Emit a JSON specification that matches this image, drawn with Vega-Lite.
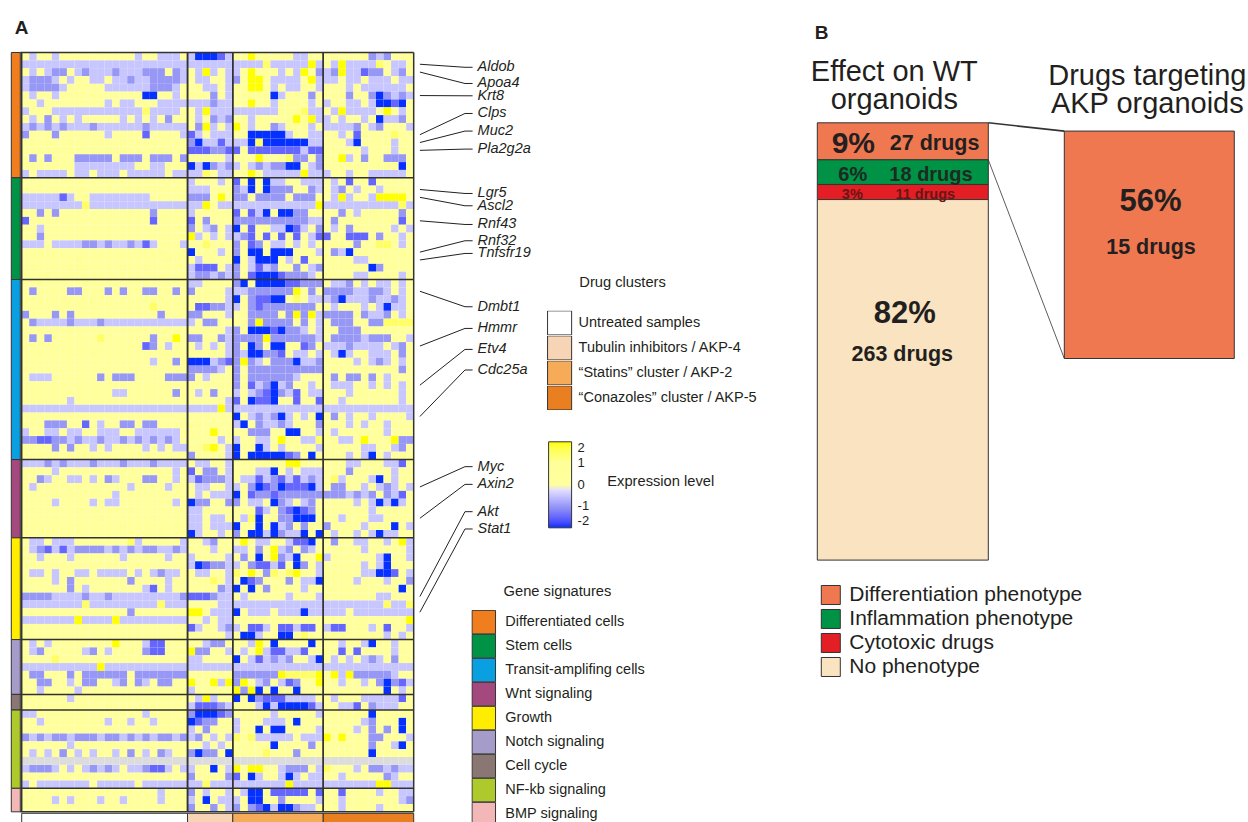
{
"$schema": "https://vega.github.io/schema/vega-lite/v6.json",
"padding": {"left": 10.3, "top": 18.5, "right": 0, "bottom": 0},
"background": "white",
"config": {"font": "Liberation Sans", "view": {"stroke": null}, "legend": {"labelFont": "Liberation Sans", "titleFont": "Liberation Sans", "labelColor": "#231f20", "titleColor": "#231f20", "titleFontWeight": "normal", "padding": 0, "labelLimit": 400}},
"datasets": {
"heat": [
{"r":1,"v":[0,-1,0,1,-1,1,1,1,1,0,1,1,1,1,0,-1,1,2,-1,-1,-1,1,-1,-4,-4,-4,-3,-1,1,2,4,2,2,1,2,2,-1,-1,1,0,1,2,1,1,1,2,-2,-1,-2,1,1,2]},
{"r":2,"v":[-1,-1,-1,-1,-1,-1,-1,-1,-1,-1,-1,-1,-1,-1,-1,-1,-1,-1,-1,-1,-1,-1,-1,-1,-1,-1,-1,-1,-1,-1,-1,-1,3,-1,-1,-1,-1,-1,4,-1,1,-1,4,-1,-1,-1,-1,3,1,-1,-1,2]},
{"r":3,"v":[1,-1,1,-1,-2,-2,1,-1,-2,-1,-1,-1,-2,-1,-1,-1,-2,-2,-2,1,-2,-1,1,-1,4,-1,1,-1,-1,1,4,1,1,2,-1,1,-1,4,1,-2,-1,-2,4,-1,-1,-3,-2,-2,1,-1,-2,1]},
{"r":4,"v":[-1,-2,-2,-2,-1,1,-1,1,0,-1,-1,1,-1,-1,-2,-1,-1,-2,-2,-2,-2,-1,1,-1,-1,1,1,-1,-2,1,4,4,1,-1,-1,-1,-1,1,4,-1,-1,-1,1,-1,-1,2,-1,-1,-1,1,-1,-1]},
{"r":5,"v":[-1,-2,-2,-2,-2,-1,1,1,1,1,1,-1,-1,-1,-1,-1,-1,-2,-2,-2,-1,1,1,1,-1,-1,1,-1,2,1,4,4,1,-1,1,-1,-1,2,1,-1,1,1,1,-1,1,-1,-1,-1,-1,-1,-1,1]},
{"r":6,"v":[1,-1,1,0,-1,1,1,1,0,1,0,1,1,0,1,1,-4,-4,1,1,-1,1,1,1,1,-2,1,-1,2,1,2,1,2,-4,-1,1,2,1,-2,1,1,1,1,-2,1,1,-2,-4,-2,-1,-2,-1]},
{"r":7,"v":[0,1,-1,1,1,1,1,1,0,1,0,-1,0,-1,-1,0,1,1,-1,-1,-1,-1,-1,-1,-1,-2,-1,-1,1,0,4,1,1,-1,2,2,2,1,-1,1,-1,1,1,-1,-1,1,-1,-4,-4,-3,-4,1]},
{"r":8,"v":[-1,2,2,2,-1,-1,-1,-1,-1,-1,-1,-1,-1,-1,-1,-1,3,-1,-1,-1,-1,1,1,-1,4,-1,-1,-1,-1,-1,-1,-1,-1,-1,2,2,2,3,-1,-1,1,-1,4,-1,-1,-1,-1,1,4,1,-1,1]},
{"r":9,"v":[0,-1,1,-2,1,-1,1,-1,1,0,1,0,1,-1,1,-1,1,-1,1,-2,1,1,1,-1,1,-2,-1,-2,1,2,-1,2,1,1,1,2,4,2,4,-1,-1,1,-1,1,0,-1,1,-4,-1,-1,-2,1]},
{"r":10,"v":[-1,-2,-1,-2,-1,-2,-1,-1,-1,-2,-1,-1,-1,-1,-1,-1,-2,-1,-1,-1,-1,-1,1,-2,4,-1,1,-1,4,1,-1,1,1,-2,-1,2,1,2,-1,1,-1,-1,-1,-1,-2,1,-1,-2,1,1,1,-1]},
{"r":11,"v":[-2,1,1,1,-2,1,1,1,1,1,1,-1,1,1,1,1,-3,1,1,1,1,-1,-3,-1,1,-1,-1,-1,1,1,-4,-4,-4,-4,-4,-1,1,1,-1,-1,1,1,-1,1,-3,2,1,1,2,3,1,1]},
{"r":12,"v":[1,2,1,2,1,1,2,1,1,1,2,1,1,2,1,1,2,1,1,1,1,1,-2,-4,-1,-1,-3,-1,-1,-1,-4,3,-4,-4,-4,-4,-4,-4,-1,-1,0,1,1,-1,-4,1,1,1,2,-1,1,1]},
{"r":13,"v":[1,2,2,2,2,2,2,1,1,2,1,2,2,2,1,1,1,2,2,1,1,1,-3,-3,-3,-2,-2,-3,-3,1,-3,-3,-3,-3,-3,-3,-3,-1,-3,-3,1,1,1,1,1,-1,1,1,1,-1,2,1]},
{"r":14,"v":[1,-2,1,-2,1,1,0,-2,-2,-2,-2,-2,1,-2,-2,-2,1,-2,-2,-2,1,-2,2,1,1,1,0,-1,1,1,1,4,1,1,1,3,-2,-2,1,-2,1,1,4,-1,1,-2,1,1,-2,-2,-2,1]},
{"r":15,"v":[1,1,1,1,1,1,1,-1,-1,-1,-1,-1,-1,-1,-1,2,1,-1,-1,1,1,1,-4,-1,-4,-2,-1,-2,-1,1,-1,-2,-1,-2,-2,-4,-4,1,-1,-2,1,1,1,1,1,1,1,2,2,1,-4,1]},
{"r":16,"v":[-1,1,-1,-1,-1,-1,1,-1,-1,1,-1,-1,-1,1,-1,-1,-1,-1,-1,1,-1,-1,-1,-1,3,1,-1,-1,1,1,4,1,-1,-1,-1,-1,-1,4,-1,-1,-1,1,1,-1,1,1,-1,-1,-1,-1,-1,1]},
{"r":17,"v":[1,1,1,1,1,0,1,1,1,1,1,1,1,1,1,1,1,0,1,1,1,1,-1,1,1,1,-1,1,-3,1,-4,1,-4,-1,-1,1,1,-1,-1,-1,0,-1,1,-3,1,1,-3,1,1,1,1,1]},
{"r":18,"v":[1,0,1,1,1,1,0,1,1,1,1,1,0,0,1,1,1,1,0,1,1,1,-1,-1,-1,1,1,1,-2,-1,-4,1,-4,-2,-2,-2,1,1,-2,-1,1,-1,-2,1,-1,1,1,-1,1,1,1,1]},
{"r":19,"v":[-1,-1,-1,-1,-1,-3,-1,1,2,-1,-1,-1,-1,-1,-1,-1,-1,1,1,1,1,1,-2,-2,-2,1,4,1,-2,-2,1,-2,-2,-2,-2,1,-2,-2,-2,1,1,-1,4,-1,1,1,-1,4,4,4,4,1]},
{"r":20,"v":[-1,-1,-1,-1,-1,-1,-1,-1,3,-1,-1,-1,-1,-1,-1,-1,-1,-1,-1,-1,-1,-1,-1,-1,4,1,-1,-1,-1,-1,-1,-1,-1,-1,-1,-1,-1,-1,-1,4,-1,-1,-1,-1,-1,-1,-1,-1,-1,-1,3,-1]},
{"r":21,"v":[1,1,-2,1,-2,1,1,1,1,1,1,1,1,1,2,1,1,-2,1,1,1,1,-1,1,1,1,1,2,-3,1,-3,-1,-4,1,-4,-4,-2,-2,1,1,1,1,-2,1,-1,1,2,1,1,1,-2,1]},
{"r":22,"v":[-3,1,1,1,1,1,1,1,1,1,1,1,1,1,1,1,1,-3,1,1,1,1,-3,1,-2,1,1,1,-2,-2,-2,-2,-2,-2,-2,-2,-2,-2,-1,-1,1,-2,1,2,1,1,1,1,1,1,-3,1]},
{"r":23,"v":[1,1,-1,1,1,1,1,1,1,1,1,1,1,1,1,1,1,1,1,1,1,0,-2,1,-1,-2,1,-1,-4,1,-3,1,2,-1,-1,-4,-3,-1,1,-2,1,-1,1,-2,1,1,1,1,1,-1,1,-1]},
{"r":24,"v":[1,1,-2,1,1,1,1,1,1,1,1,1,1,1,1,1,1,1,1,1,1,1,4,-1,1,-1,1,-1,-1,-2,-3,1,-3,1,-3,1,-3,1,-1,-3,-3,1,2,-3,-3,-3,1,-2,1,1,-1,1]},
{"r":25,"v":[-1,-1,-1,0,-1,-1,-1,-1,-2,-2,-1,-2,-1,-1,-2,-1,-3,-1,1,1,1,-1,0,1,3,2,2,1,-2,1,-3,-2,1,-1,-1,1,-1,1,-1,1,2,2,2,1,-2,1,1,3,3,1,-1,1]},
{"r":26,"v":[1,1,2,1,1,1,1,1,1,1,1,1,1,1,1,1,1,1,2,1,1,1,-4,1,1,1,-1,1,-2,1,-4,-4,1,-4,-4,-4,1,1,1,-1,1,-2,-1,-4,1,1,1,1,1,1,2,1]},
{"r":27,"v":[1,1,1,1,1,1,1,2,1,1,1,1,1,1,1,1,1,1,1,2,1,1,1,-1,1,1,1,1,-4,1,-1,-4,-4,-4,1,-1,1,-3,1,1,1,1,1,1,-1,-1,1,1,1,1,1,1]},
{"r":28,"v":[2,2,1,1,1,1,2,2,2,1,1,1,1,2,1,1,2,1,1,1,1,1,-1,-3,-3,-3,1,-1,-2,1,-1,-3,-1,-2,1,1,-2,1,-1,-2,1,1,1,1,1,1,-4,-2,1,1,1,1]},
{"r":29,"v":[1,1,1,2,1,1,1,1,1,1,1,1,1,1,1,1,1,1,1,1,1,1,-1,-2,-2,-1,-2,-1,-2,1,-3,-4,-4,-4,-3,-2,-2,-2,-1,1,1,1,1,1,-1,-1,1,1,1,1,-1,1]},
{"r":30,"v":[1,1,2,1,1,1,1,1,2,1,1,1,1,1,1,1,2,1,0,1,1,1,-1,-1,1,1,1,1,-2,-4,1,-4,-4,-4,-4,-3,-3,-2,-2,-2,1,-1,-1,-2,1,-1,1,-1,-1,1,-1,1]},
{"r":31,"v":[1,-2,1,1,1,1,-2,-2,1,1,1,-2,1,-2,1,1,-2,-2,1,1,-2,1,-2,1,1,1,1,-1,-1,-1,-2,-2,-2,-2,-2,-2,4,1,-2,1,-2,-2,-2,-2,-1,-1,-2,-2,-1,1,-1,1]},
{"r":32,"v":[1,1,2,1,1,2,1,1,1,2,1,1,1,1,1,1,2,2,1,1,1,1,0,1,1,1,1,-1,-4,1,-2,-3,-3,-4,-4,1,3,1,-1,-1,-1,-2,-4,-1,-1,-1,-2,-1,-1,-2,-1,1]},
{"r":33,"v":[1,1,1,1,1,1,1,1,1,1,1,1,1,1,1,1,1,3,1,1,1,1,1,-3,-3,-2,-2,-1,-1,1,-2,-3,-2,-2,-2,-2,-2,-2,-2,1,1,-1,1,1,1,-1,1,-1,-4,-1,-1,1]},
{"r":34,"v":[-2,1,1,1,-2,1,-2,1,1,1,1,1,1,1,1,1,1,1,-2,1,1,1,-2,-2,1,1,1,-1,1,1,-2,-2,-2,-2,2,-2,4,-2,4,-1,-2,-2,-2,-2,2,-2,-1,-1,-2,2,-1,2]},
{"r":35,"v":[1,-2,-1,-1,-1,-1,-2,-1,-1,-1,-2,-1,-1,-1,-1,-1,-1,-1,-1,-1,-1,-1,-1,1,-2,-2,1,1,1,1,-2,4,-2,-2,-2,-2,1,-2,1,-1,1,-2,-2,-2,1,1,-2,-2,3,3,3,3]},
{"r":36,"v":[1,1,1,1,1,1,2,1,1,1,1,1,1,1,1,1,1,1,1,1,1,1,0,1,1,1,1,-1,-2,1,-4,-4,-4,-3,-4,-2,-2,-1,1,-1,1,1,-2,-2,-2,1,1,1,1,1,1,1]},
{"r":37,"v":[1,-2,1,-2,1,1,1,1,1,1,3,1,1,1,1,1,1,-2,1,1,4,1,-2,-2,1,1,-2,-1,-2,-2,-2,-2,4,-2,-2,-2,-2,-2,-2,-1,1,-2,-2,-2,-2,-1,-2,-2,-2,1,1,-1]},
{"r":38,"v":[1,1,1,1,1,1,1,1,1,1,1,1,1,1,1,1,-3,-2,1,-1,1,1,1,-1,1,-1,1,-1,-2,1,-4,-2,1,-4,-4,1,1,-3,-2,1,-1,-1,-1,-2,-1,-1,-1,-1,1,-1,-2,1]},
{"r":39,"v":[1,1,2,1,1,1,1,1,1,2,1,1,1,1,1,1,1,1,1,1,1,1,1,1,1,2,1,-1,-2,-1,-4,-4,-2,-2,-3,1,-1,-1,1,-1,1,-1,-4,-1,1,1,-1,-1,-1,1,-2,1]},
{"r":40,"v":[1,1,1,1,1,1,1,1,1,1,1,1,1,1,1,1,1,-1,1,1,-2,1,-4,-4,-4,-1,-2,-3,-2,4,-2,-1,0,-2,-2,-2,-4,-1,-1,-2,1,1,1,1,-1,1,-1,-2,-1,1,-1,1]},
{"r":41,"v":[2,1,1,1,1,1,1,1,1,1,1,1,1,1,1,1,1,1,1,1,1,1,-2,-2,-2,-2,-1,1,-2,1,-2,-2,-2,-2,-2,-2,-2,-2,-2,-2,1,1,1,1,1,2,1,2,2,2,-2,1]},
{"r":42,"v":[1,-1,-1,-1,1,1,1,1,1,1,-2,2,-2,-2,-2,1,1,1,1,-2,-2,-2,-2,1,-1,1,1,1,-2,1,-2,-2,-2,-2,-2,-2,-1,1,1,1,2,-2,1,-2,-2,2,-2,1,-1,1,1,1]},
{"r":43,"v":[1,1,1,1,1,1,0,1,1,1,1,1,1,1,1,1,1,1,1,1,1,1,1,1,1,1,1,1,-2,1,-3,-1,-2,-4,-1,-2,1,1,-1,1,1,-1,-1,-1,1,1,-1,1,-1,1,-1,1]},
{"r":44,"v":[1,1,1,1,1,1,1,1,1,1,1,1,-1,-1,1,1,1,1,1,1,-2,1,1,-1,1,-2,1,1,-1,1,-1,-2,-3,-4,-2,-1,-3,1,-1,-1,1,1,1,-1,1,1,1,1,1,1,-1,1]},
{"r":45,"v":[1,1,1,1,1,1,-1,1,1,1,1,1,1,1,1,1,1,1,1,1,1,1,1,1,1,1,2,-1,-3,1,-4,-3,-3,-4,1,1,-3,1,1,-3,1,1,-1,1,1,1,1,1,1,1,-1,1]},
{"r":46,"v":[-1,-1,-1,-1,-1,-1,-1,-1,-1,-1,-1,-1,-1,-1,-1,-1,-1,-1,-1,-1,-1,-1,-1,-1,-1,-1,4,-1,-1,-1,-1,-1,-1,-1,-1,-1,-1,-1,-1,-1,-1,-1,-1,-1,-1,-1,-1,-1,-1,-1,-1,-1]},
{"r":47,"v":[1,1,1,1,1,1,1,1,1,1,1,1,1,1,1,1,1,1,1,1,1,1,1,1,1,1,1,1,-4,1,-1,-2,-1,-2,-4,-1,1,-1,1,-4,1,-2,1,-1,1,1,-1,1,1,1,1,-1]},
{"r":48,"v":[1,1,1,-2,-2,-2,1,1,-3,1,-1,1,1,-2,-2,1,-2,-2,1,1,1,1,2,2,1,1,1,1,-1,-4,1,-2,-1,-1,-2,-1,1,1,2,-2,1,1,1,-1,1,-1,1,1,-1,1,1,1]},
{"r":49,"v":[-1,1,1,-1,-1,1,-1,-1,1,1,-1,-1,-1,1,1,-1,-1,-1,-1,-1,-1,1,2,1,1,4,1,1,1,1,-2,-2,-2,1,1,-4,-4,1,1,-1,1,-1,1,1,1,1,1,1,-1,1,1,1]},
{"r":50,"v":[-2,-2,-3,-3,-2,-2,-1,-2,-1,-1,-2,-1,-1,-2,-1,-2,-1,-2,-1,-2,-1,1,1,1,1,1,-1,1,-1,1,1,-1,-1,1,4,1,1,-1,-1,3,1,1,-1,-1,1,4,1,1,1,4,-2,-2]},
{"r":51,"v":[1,1,1,1,-2,1,-2,1,1,-1,1,-1,1,1,1,1,-1,1,-1,1,-1,-1,1,2,3,4,1,-1,-4,1,1,-4,-1,1,-1,1,1,1,1,-1,1,1,1,1,1,-1,-1,1,1,-1,-2,1]},
{"r":52,"v":[1,1,1,1,1,1,1,1,1,1,1,1,1,1,1,1,1,1,1,1,1,1,-2,1,1,1,1,-1,-4,1,-4,-4,-4,-4,-4,-3,-2,1,-4,1,1,1,1,-1,1,-1,-4,1,-1,1,1,1]},
{"r":53,"v":[-1,-1,-1,-2,-1,-2,-1,-1,-1,-2,-1,-1,-1,-2,-1,-1,-1,-2,-1,-1,-1,-1,1,-1,-1,1,1,-1,0,1,1,1,2,2,1,4,4,1,1,1,1,1,1,-1,-1,1,1,1,-1,-1,-3,1]},
{"r":54,"v":[1,1,1,1,-1,1,1,1,1,1,1,1,1,1,1,1,1,1,1,1,-1,1,-3,1,-2,-2,1,-1,1,1,1,-1,-1,-4,1,-1,1,-1,-1,-1,1,1,1,-2,1,1,1,1,1,-1,1,1]},
{"r":55,"v":[1,1,-2,-1,1,1,-1,-1,1,-1,1,-2,-1,1,1,1,-2,-2,1,1,-1,1,-1,-3,-2,-2,-2,-1,1,-1,-1,-3,-1,-2,-3,-1,-3,-1,-2,-1,1,3,-1,1,1,1,-1,-4,1,-1,1,1]},
{"r":56,"v":[1,-1,1,1,1,1,1,1,1,1,1,1,1,1,-1,1,1,1,1,-1,1,1,1,-1,-1,1,1,-1,-1,1,-2,-4,-3,-2,-4,-3,-3,-3,-4,-1,1,-2,-2,1,1,-1,1,-1,-2,-1,1,-1]},
{"r":57,"v":[1,1,1,1,1,1,1,1,1,1,1,1,-1,1,1,1,1,1,1,1,1,1,1,-1,1,-1,-1,-1,-4,1,-3,-2,-2,-3,-2,-2,-2,-2,-2,-2,-2,-2,-2,-1,-2,-1,-2,1,-2,-1,-3,1]},
{"r":58,"v":[1,1,1,1,-1,1,1,1,1,-1,1,-1,-1,1,1,1,1,1,1,1,-1,1,-4,-2,-2,1,1,-2,-2,1,-1,-1,1,-4,-2,-1,1,-1,-2,1,1,1,1,1,-1,1,-1,-4,-1,-4,-1,1]},
{"r":59,"v":[1,2,1,1,1,1,1,2,1,1,1,1,1,1,2,1,1,1,1,1,1,1,-1,-1,1,1,1,1,1,1,2,-3,-1,1,-2,-3,-4,-3,-2,1,1,1,1,1,1,1,-1,1,1,1,1,1]},
{"r":60,"v":[1,1,1,1,2,1,1,1,1,1,2,1,1,1,1,1,1,2,1,1,1,1,-1,-1,1,-1,-1,1,1,-1,3,-4,1,2,-2,-2,-4,-4,-4,1,1,1,-1,1,1,1,-1,-1,1,1,1,1]},
{"r":61,"v":[2,1,1,1,1,1,1,1,1,1,1,1,1,2,1,1,1,1,1,1,2,1,-1,-1,1,-1,-1,-1,-4,1,1,-4,1,-4,-1,-2,1,-2,1,1,-2,1,1,1,1,-1,1,1,1,-4,1,-1]},
{"r":62,"v":[1,1,2,2,1,1,1,1,1,1,1,1,1,1,1,1,1,1,2,1,1,1,-4,-1,1,1,-1,1,-2,1,-4,-4,-1,-4,-2,-1,-1,-4,1,-4,1,-1,1,1,-1,1,-1,-4,-1,-1,1,1]},
{"r":63,"v":[1,-1,-1,1,-1,-1,-1,1,1,1,1,1,1,1,3,-1,1,1,1,1,1,-1,1,1,-1,-2,1,1,1,4,1,-1,-1,1,1,-1,-3,-3,-4,1,1,-2,1,1,-1,-1,1,1,-1,1,4,-1]},
{"r":64,"v":[1,-1,-2,-3,-1,-3,-1,-2,-2,-2,-2,-1,-2,-1,-2,-1,-2,-2,-1,-1,-2,-1,1,1,1,-1,2,1,-1,-1,1,-2,1,4,-1,-2,1,-2,-1,1,1,1,1,1,1,-1,1,1,1,1,1,-1]},
{"r":65,"v":[1,1,-1,1,1,1,-1,1,1,1,1,1,1,-1,1,1,1,1,1,-1,1,1,-1,1,1,1,1,-1,1,-2,1,-4,1,4,-2,-1,-4,1,1,4,-1,1,1,1,1,1,1,-1,-4,1,1,-1]},
{"r":66,"v":[1,1,1,1,1,1,1,1,1,1,1,1,1,1,1,1,1,1,1,1,1,1,-1,-4,-3,-2,-2,-1,-1,1,-2,-3,-3,-1,-3,1,-4,-2,1,-1,1,1,1,1,1,-1,1,-1,-4,1,1,1]},
{"r":67,"v":[1,-1,-1,1,-1,1,1,-1,-1,1,-1,-1,-1,-1,1,-1,1,-1,-2,-1,-1,1,1,-1,-1,1,1,-1,3,1,4,1,-2,3,1,3,4,1,1,-1,1,1,1,1,1,-1,-1,-4,-4,-3,1,-1]},
{"r":68,"v":[1,1,1,1,-1,1,-2,1,1,1,1,1,1,1,-2,1,1,1,1,-1,1,1,1,1,1,3,2,-1,1,-4,-3,-2,1,1,1,-2,1,-1,-1,-4,1,1,1,1,-1,1,1,1,-1,1,1,-2]},
{"r":69,"v":[1,1,1,1,1,1,-2,1,-1,1,1,1,1,1,1,1,-1,-3,1,-1,1,1,1,1,1,1,-2,-1,-4,1,-4,1,-2,1,1,1,1,-1,1,1,1,1,1,1,1,1,1,1,1,1,-4,1]},
{"r":70,"v":[-2,-2,-2,-2,-1,-1,-1,-1,-2,-1,-1,-2,-1,-1,-1,-1,-1,-1,-1,-1,-1,-2,-3,-3,-3,-2,-1,-1,1,-1,1,1,1,1,1,-1,2,1,1,-1,2,1,1,1,1,1,1,-1,-1,1,1,1]},
{"r":71,"v":[-1,-1,-1,-1,-1,-1,-1,-1,3,-1,-1,-1,-1,-1,-1,-1,-1,-1,3,-1,-1,-1,1,1,1,1,-1,-1,-1,-1,-1,-1,-1,-1,-1,-1,-1,-1,-1,-1,-1,-1,-1,-1,-1,-1,-1,-1,3,-1,-1,3]},
{"r":72,"v":[1,1,1,1,1,1,1,1,1,1,1,1,1,1,-2,1,1,1,1,1,1,1,4,4,2,-1,-1,-1,-4,1,-1,-1,-1,1,-1,-1,-1,-4,-1,-1,-1,-1,-1,1,-1,-1,-1,-1,-1,-1,-1,-1]},
{"r":73,"v":[-1,-1,-1,-1,-1,-1,-1,4,-1,-1,-1,-1,4,-1,-1,-1,-1,-1,-1,-1,-1,-1,1,1,-1,1,-1,-1,1,1,1,1,1,1,1,1,1,1,1,1,1,1,1,1,1,1,1,1,1,1,1,4]},
{"r":74,"v":[1,1,1,1,1,1,1,1,2,1,1,1,1,1,1,1,1,1,1,1,1,1,-3,-1,1,1,-1,-2,-1,1,-3,-3,-1,1,-3,-3,-1,-3,-3,1,-1,-3,-3,1,1,1,-1,1,-3,1,1,-1]},
{"r":75,"v":[1,1,1,1,1,1,1,1,1,1,1,1,1,1,1,1,1,1,1,1,1,1,1,1,1,1,1,-1,1,-4,-4,-1,1,1,-4,-4,2,3,1,1,1,1,1,1,1,1,1,1,-1,1,-1,1]},
{"r":76,"v":[1,-1,1,-1,1,1,1,1,1,1,1,1,4,1,1,1,-1,-3,-3,1,1,1,1,1,-1,-2,-2,1,1,1,-1,4,1,-4,1,1,1,1,-4,1,1,1,-1,1,1,-1,-4,1,1,-1,1,1]},
{"r":77,"v":[1,-1,-2,1,1,1,1,1,-1,-2,1,-1,1,1,1,1,-2,-3,-3,1,1,1,4,-2,-2,1,1,-1,1,-1,1,4,-1,-3,-3,-1,-1,-3,1,1,2,1,-3,1,-3,1,1,1,1,-1,1,1]},
{"r":78,"v":[1,1,1,1,3,1,1,1,1,1,1,1,1,1,1,1,1,1,1,1,1,1,-1,-1,1,1,1,1,-4,1,-1,-3,-1,-2,-1,-2,1,1,-1,-4,1,-1,1,-1,1,-1,-2,-1,1,-2,1,1]},
{"r":79,"v":[-1,-1,-1,-1,-1,-1,-1,-1,-1,-1,4,-1,-1,-1,-1,-1,-1,-1,-1,-1,-1,-1,-1,-1,-1,-1,-1,-1,-1,-1,-1,-1,-1,-1,-1,-1,-1,-1,-1,-1,-1,-1,-1,-1,-1,-1,-1,-1,-1,-1,-1,-1]},
{"r":80,"v":[1,-2,-2,1,1,1,-2,1,-2,-2,-2,-2,-2,-2,1,-2,-2,-2,-2,-2,-2,-2,1,1,1,1,2,1,-2,-2,-2,-2,-2,-2,4,3,3,3,3,4,1,4,-1,4,-2,-2,-2,-2,-2,-1,1,1]},
{"r":81,"v":[1,1,-2,-2,1,1,-1,1,-2,-2,1,1,-1,-2,1,-2,-1,1,-2,-2,1,1,4,1,1,4,-1,4,-2,4,1,-1,-2,1,-1,-3,-2,1,1,4,1,1,-1,1,1,-1,1,-2,-4,-2,-3,-1]},
{"r":82,"v":[1,1,-1,1,1,1,1,-1,1,1,1,1,1,1,1,1,1,1,1,1,1,1,-1,1,1,1,1,1,4,-2,4,-4,1,-4,1,1,-4,1,1,1,1,1,1,1,1,1,1,1,-4,1,-1,1]},
{"r":83,"v":[1,1,1,1,1,1,-1,1,1,1,1,1,1,1,1,1,1,1,1,1,1,1,1,-1,4,-1,1,1,-4,1,-4,-2,-3,-3,-3,-1,-1,-1,-1,1,1,-1,1,1,1,-1,-1,-1,-1,-1,-3,1]},
{"r":84,"v":[1,1,2,1,1,2,1,2,2,1,1,2,1,1,1,1,1,2,1,1,1,1,-1,-3,-3,-3,-2,-1,1,1,1,-1,-4,-1,-4,-4,-4,-4,-3,-1,1,1,-1,-1,-3,1,-2,-1,-1,-1,1,1]},
{"r":85,"v":[-1,-1,1,1,1,1,1,1,1,1,1,1,1,1,1,1,-1,1,1,1,1,1,-2,-4,-4,-4,-3,-2,1,1,1,1,1,-1,1,1,1,1,1,-1,1,2,2,1,1,1,-4,1,1,1,1,1]},
{"r":86,"v":[1,1,-1,1,1,1,1,1,1,1,1,-1,1,1,-1,1,1,-1,1,1,1,1,-4,-3,-2,-2,1,1,-1,1,1,1,-1,-1,-1,1,-4,1,1,1,1,1,1,1,1,-1,-2,1,1,1,-4,1]},
{"r":87,"v":[1,1,1,1,1,1,1,1,1,1,1,1,1,1,1,1,1,1,1,1,1,1,-1,1,-2,1,1,1,-1,1,1,-4,1,-4,-4,2,2,1,1,-1,1,1,1,1,-1,1,-2,1,-2,1,-4,1]},
{"r":88,"v":[-2,-1,-2,-1,-2,-2,-1,-2,-2,-2,-1,-2,-2,-1,-2,-1,-2,-1,-2,-2,-1,-2,-1,-2,1,-1,1,-1,3,1,3,-1,-1,-1,-1,-1,1,-1,-1,-1,4,1,4,1,1,1,-2,-2,1,1,1,-1]},
{"r":89,"v":[1,1,1,1,1,1,-1,1,1,1,1,1,1,1,1,1,1,1,1,1,1,1,1,1,-1,1,-1,1,1,1,1,1,1,-4,1,1,1,1,-2,1,1,1,1,1,1,1,-2,1,1,-1,-4,1]},
{"r":90,"v":[1,-1,1,-1,1,-2,1,-1,1,-1,1,1,-1,1,-2,1,-1,1,-2,-1,1,1,-2,-4,-2,-2,1,-4,1,1,1,1,3,1,1,1,-2,1,1,1,2,1,2,2,1,1,-4,1,1,1,1,2]},
{"r":91,"v":[null,null,null,null,null,null,null,null,null,null,null,null,null,null,null,null,null,null,null,null,null,null,null,null,null,null,null,null,null,null,null,null,null,null,null,null,null,null,null,null,null,null,null,null,null,null,null,null,null,null,null,null]},
{"r":92,"v":[-1,-2,-2,-2,-1,1,-1,1,-1,-2,-1,-2,-1,1,-1,-1,-2,-3,-3,-1,1,-1,-1,1,1,-4,1,-1,4,1,4,4,2,1,-1,-2,-2,-2,1,-1,3,1,1,1,-1,1,-2,-2,-1,-2,-1,-1]},
{"r":93,"v":[1,1,1,1,1,1,1,1,1,1,1,1,1,1,1,1,1,1,1,1,1,1,-2,1,1,1,1,-2,-3,1,-4,-1,1,1,-1,-4,-1,1,-1,-1,1,1,-1,1,1,1,1,1,-2,-1,1,1]},
{"r":94,"v":[-1,2,-1,-1,-1,-1,-1,-1,-1,1,-1,-1,-1,-1,-1,2,-1,-1,-1,-1,-1,-1,-1,-1,3,-1,-1,-1,-1,-1,-1,-1,-1,-1,-1,4,-1,-1,-1,-1,-1,-1,-1,-1,-1,-1,-1,4,4,-1,-1,-1]},
{"r":95,"v":[1,1,1,1,1,1,1,1,1,1,1,1,1,1,1,1,1,1,-1,1,1,1,-2,1,-1,1,1,-1,1,-1,-4,-4,1,-3,-3,-3,-3,-3,1,-3,1,1,-3,1,1,1,1,-1,1,2,-1,-1]},
{"r":96,"v":[1,1,1,1,-1,1,-1,1,1,1,-1,1,1,-1,1,1,1,1,-1,1,1,1,-1,1,-4,1,-1,-1,-1,1,-4,-4,1,1,-2,1,1,1,1,-1,1,1,-1,1,1,1,1,1,1,1,-1,-2]},
{"r":97,"v":[1,1,1,1,1,1,1,1,1,1,1,1,1,1,1,1,1,1,1,1,1,1,-2,1,1,-2,1,-1,-2,1,-2,-3,-4,-1,-4,-4,-2,-1,-1,1,1,1,-1,1,1,1,1,-1,1,1,1,1]}
],
"hsep": [{"r":1},{"r":17},{"r":30},{"r":53},{"r":63},{"r":76},{"r":83},{"r":85},{"r":95}],
"sig": [
{"sig":"Differentiated cells","from":0,"to":16},
{"sig":"Stem cells","from":16,"to":29},
{"sig":"Transit-amplifing cells","from":29,"to":52},
{"sig":"Wnt signaling","from":52,"to":62},
{"sig":"Growth","from":62,"to":75},
{"sig":"Notch signaling","from":75,"to":82},
{"sig":"Cell cycle","from":82,"to":84},
{"sig":"NF-kb signaling","from":84,"to":94},
{"sig":"BMP signaling","from":94,"to":97}
],
"clus": [
{"cluster":"Untreated samples","from":0,"to":22},
{"cluster":"Tubulin inhibitors / AKP-4","from":22,"to":28},
{"cluster":"“Statins” cluster / AKP-2","from":28,"to":40},
{"cluster":"“Conazoles” cluster / AKP-5","from":40,"to":52}
],
"genes": [
{"gene":"Aldob","row":2,"ly":2.39},{"gene":"Apoa4","row":3,"ly":4.46},{"gene":"Krt8","row":6,"ly":6.03},
{"gene":"Clps","row":11,"ly":8.29},{"gene":"Muc2","row":12,"ly":10.54},{"gene":"Pla2g2a","row":13,"ly":12.84},
{"gene":"Lgr5","row":18,"ly":18.51},{"gene":"Ascl2","row":19,"ly":20.08},{"gene":"Rnf43","row":22,"ly":22.47},
{"gene":"Rnf32","row":26,"ly":24.55},{"gene":"Tnfsfr19","row":27,"ly":26.17},{"gene":"Dmbt1","row":31,"ly":32.98},
{"gene":"Hmmr","row":38,"ly":35.75},{"gene":"Etv4","row":43,"ly":38.43},{"gene":"Cdc25a","row":47,"ly":41.06},
{"gene":"Myc","row":56,"ly":53.41},{"gene":"Axin2","row":60,"ly":55.67},{"gene":"Akt","row":70,"ly":59.16},{"gene":"Stat1","row":72,"ly":61.37}
],
"links": [{"link":"top","wt":0,"akp":6.05},{"link":"bottom","wt":27,"akp":171.9}],
"wt": [
{"cat":"Differentiation phenotype","drugs":27,"pct":0.09,"label":"27 drugs"},
{"cat":"Inflammation phenotype","drugs":18,"pct":0.06,"label":"18 drugs"},
{"cat":"Cytotoxic drugs","drugs":11,"pct":0.03,"label":"11 drugs"},
{"cat":"No phenotype","drugs":263,"pct":0.82,"label":"263 drugs"}
],
"akp": [{"group":"Differentiation phenotype","total":27,"akp":15,"pct":0.56,"label":"15 drugs"}]
},
"bounds": "flush",
"spacing": 0,
"resolve": {"scale": {"fill": "independent"}, "legend": {"fill": "independent"}},
"hconcat": [
{
"width": 9, "height": 759.3,
"title": {"text": "A", "anchor": "start", "frame": "group", "fontSize": 19, "fontWeight": "bold", "font": "Liberation Sans", "color": "#231f20", "offset": -1.2, "baseline": "alphabetic", "dx": 3.5},
"data": {"name": "sig"},
"mark": {"type": "rect", "stroke": "#333333", "strokeWidth": 1},
"encoding": {
"y": {"field": "from", "type": "quantitative", "scale": {"domain": [0, 97], "reverse": true, "nice": false, "zero": false}, "axis": null},
"y2": {"field": "to"},
"fill": {"field": "sig", "type": "nominal",
"scale": {"domain": ["Differentiated cells","Stem cells","Transit-amplifing cells","Wnt signaling","Growth","Notch signaling","Cell cycle","NF-kb signaling","BMP signaling"],
"range": ["#f07e1e","#009245","#0a9fe0","#a3497e","#ffed00","#a59cca","#8a7773","#adc92b","#f4b7b8"]},
"legend": {"orient": "none", "legendX": 460, "legendY": 557.6, "title": null, "labelFontSize": 14.5, "symbolType": "square", "symbolSize": 552, "symbolStrokeColor": "#333333", "symbolStrokeWidth": 1, "symbolOpacity": 1, "labelOffset": 9, "clipHeight": 24, "rowPadding": 0}}
}
},
{
"width": 393.4, "height": 759.3,
"resolve": {"scale": {"x": "independent", "fill": "independent"}, "legend": {"fill": "independent"}},
"layer": [
{
"data": {"name": "heat"},
"transform": [{"flatten": ["v"]}, {"window": [{"op": "row_number", "as": "c"}], "groupby": ["r"]}, {"filter": {"field": "v", "valid": true}}],
"mark": {"type": "rect"},
"encoding": {
"x": {"field": "c", "type": "ordinal", "axis": null, "scale": {"range": [1.4, 393.4], "paddingInner": 0, "paddingOuter": 0}},
"y": {"field": "r", "type": "ordinal", "axis": null, "scale": {"paddingInner": 0, "paddingOuter": 0}},
"fill": {"field": "v", "type": "quantitative",
"scale": {"domain": [-4, -2, 0, 2, 4], "range": ["#0530ff", "#9797f5", "#ffffff", "#ffff99", "#ffff00"]},
"legend": {"orient": "none", "direction": "vertical", "legendX": 528.3, "legendY": 389.3, "gradientLength": 86, "gradientThickness": 23, "gradientStrokeColor": "#333333", "gradientStrokeWidth": 1, "values": [-4, -2, 0, 2, 4], "labelExpr": "'' + (datum.value / 2)", "labelFontSize": 13, "labelOffset": 6, "title": null}}
}
},
{
"data": {"name": "heat"},
"transform": [{"flatten": ["v"]}, {"window": [{"op": "row_number", "as": "c"}], "groupby": ["r"]}, {"filter": {"field": "v", "valid": false}}],
"mark": {"type": "rect", "fill": "#dcdcdc"},
"encoding": {
"x": {"field": "c", "type": "ordinal", "axis": null, "scale": {"range": [1.4, 393.4], "paddingInner": 0, "paddingOuter": 0}},
"y": {"field": "r", "type": "ordinal"}
}
},
{
"data": {"name": "hsep"},
"mark": {"type": "rule", "color": "#333333", "strokeWidth": 1.5},
"encoding": {"y": {"field": "r", "type": "ordinal", "bandPosition": 0}}
},
{
"data": {"values": [{"r": 97}]},
"mark": {"type": "rule", "color": "#333333", "strokeWidth": 1.5},
"encoding": {"y": {"field": "r", "type": "ordinal", "bandPosition": 1}}
},
{
"data": {"name": "clus"},
"mark": {"type": "rule", "color": "#333333", "strokeWidth": 1.5},
"encoding": {"x": {"field": "from", "type": "quantitative", "axis": null, "scale": {"domain": [0, 52], "range": [1.4, 393.4], "nice": false, "zero": false}}}
},
{
"data": {"name": "clus"},
"mark": {"type": "rule", "color": "#333333", "strokeWidth": 1.5},
"encoding": {"x": {"field": "to", "type": "quantitative", "axis": null, "scale": {"domain": [0, 52], "range": [1.4, 393.4], "nice": false, "zero": false}}}
},
{
"data": {"name": "clus"},
"mark": {"type": "rect", "stroke": "#333333", "strokeWidth": 1, "yOffset": 1.5, "y2Offset": 14},
"encoding": {
"x": {"field": "from", "type": "quantitative", "axis": null, "scale": {"domain": [0, 52], "range": [1.4, 393.4], "nice": false, "zero": false}},
"x2": {"field": "to"},
"y": {"value": "height"},
"y2": {"value": "height"},
"fill": {"field": "cluster", "type": "nominal",
"scale": {"domain": ["Untreated samples","Tubulin inhibitors / AKP-4","“Statins” cluster / AKP-2","“Conazoles” cluster / AKP-5"], "range": ["#ffffff","#f7d4b5","#f5ab58","#e97f20"]},
"legend": {"orient": "none", "legendX": 526.3, "legendY": 258.3, "title": null, "labelFontSize": 14.5, "symbolType": "square", "symbolSize": 580, "symbolStrokeColor": "#333333", "symbolStrokeWidth": 1, "symbolOpacity": 1, "labelOffset": 6, "clipHeight": 24.2, "rowPadding": 0}}
}
}
]
},
{
"width": 402.3, "height": 759.3,
"layer": [
{
"data": {"name": "genes"},
"mark": {"type": "rule", "color": "#231f20", "strokeWidth": 1},
"encoding": {
"x": {"value": 5.6},
"x2": {"value": 50.7},
"y": {"field": "row", "type": "quantitative", "scale": {"domain": [0.5, 97.5], "reverse": true, "nice": false, "zero": false}, "axis": null},
"y2": {"field": "ly"}
}
},
{
"data": {"name": "genes"},
"mark": {"type": "rule", "color": "#231f20", "strokeWidth": 1},
"encoding": {
"x": {"value": 50.7},
"x2": {"value": 58.3},
"y": {"field": "ly", "type": "quantitative"},
"y2": {"field": "ly"}
}
},
{
"data": {"name": "genes"},
"mark": {"type": "text", "align": "left", "baseline": "middle", "dx": 5, "fontSize": 14.5, "fontStyle": "italic", "color": "#231f20"},
"encoding": {
"x": {"value": 58.3},
"y": {"field": "ly", "type": "quantitative"},
"text": {"field": "gene"}
}
},
{
"data": {"values": [{"note": "Drug clusters", "ly": 30.0}]},
"mark": {"type": "text", "align": "left", "baseline": "middle", "fontSize": 14.7, "color": "#231f20"},
"encoding": {"x": {"value": 165}, "y": {"field": "ly", "type": "quantitative"}, "text": {"field": "note"}}
},
{
"data": {"values": [{"note": "Expression level", "ly": 55.42}]},
"mark": {"type": "text", "align": "left", "baseline": "middle", "fontSize": 14.7, "color": "#231f20"},
"encoding": {"x": {"value": 193}, "y": {"field": "ly", "type": "quantitative"}, "text": {"field": "note"}}
},
{
"data": {"values": [{"note": "Gene signatures", "ly": 69.38}]},
"mark": {"type": "text", "align": "left", "baseline": "middle", "fontSize": 14.7, "color": "#231f20"},
"encoding": {"x": {"value": 89.3}, "y": {"field": "ly", "type": "quantitative"}, "text": {"field": "note"}}
}
]
},
{
"width": 171, "height": 507.6,
"title": {"text": "B", "anchor": "start", "frame": "group", "fontSize": 19, "fontWeight": "bold", "font": "Liberation Sans", "color": "#231f20", "offset": -5.8, "baseline": "alphabetic", "dx": -2.5},
"layer": [
{
"data": {"name": "wt"},
"transform": [{"stack": "drugs", "groupby": [], "as": ["y0", "y1"]}],
"mark": {"type": "rect", "stroke": "#333333", "strokeWidth": 1},
"encoding": {
"y": {"field": "y0", "type": "quantitative", "scale": {"domain": [-51.28, 319], "reverse": true, "nice": false, "zero": false}, "axis": null},
"y2": {"field": "y1"},
"fill": {"field": "cat", "type": "nominal",
"scale": {"domain": ["Differentiation phenotype","Inflammation phenotype","Cytotoxic drugs","No phenotype"], "range": ["#f07850","#009245","#e31e25","#f9e3c0"]},
"legend": {"orient": "none", "legendX": 3, "legendY": 532, "title": null, "labelFontSize": 21, "symbolType": "square", "symbolSize": 361, "symbolStrokeColor": "#333333", "symbolStrokeWidth": 1, "symbolOpacity": 1, "labelOffset": 8, "rowPadding": 1}}
}
},
{
"data": {"name": "wt"},
"transform": [{"stack": "drugs", "groupby": [], "as": ["y0", "y1"]}, {"filter": {"field": "cat", "equal": "Differentiation phenotype"}}],
"mark": {"type": "text", "fontSize": 30, "fontWeight": "bold", "baseline": "middle", "dx": -49.5, "dy": 21.7, "color": "#231f20"},
"encoding": {"y": {"field": "y0", "type": "quantitative"}, "text": {"field": "pct", "type": "quantitative", "format": ".0%"}}
},
{
"data": {"name": "wt"},
"transform": [{"stack": "drugs", "groupby": [], "as": ["y0", "y1"]}, {"filter": {"field": "cat", "equal": "Differentiation phenotype"}}],
"mark": {"type": "text", "fontSize": 21.5, "fontWeight": "bold", "baseline": "middle", "dx": 31.8, "dy": 21.7, "color": "#231f20"},
"encoding": {"y": {"field": "y0", "type": "quantitative"}, "text": {"field": "label"}}
},
{
"data": {"name": "wt"},
"transform": [{"stack": "drugs", "groupby": [], "as": ["y0", "y1"]}, {"filter": {"field": "cat", "equal": "Inflammation phenotype"}}],
"mark": {"type": "text", "fontSize": 20, "fontWeight": "bold", "baseline": "middle", "dx": -50, "dy": 15.3, "color": "#1d2b23"},
"encoding": {"y": {"field": "y0", "type": "quantitative"}, "text": {"field": "pct", "type": "quantitative", "format": ".0%"}}
},
{
"data": {"name": "wt"},
"transform": [{"stack": "drugs", "groupby": [], "as": ["y0", "y1"]}, {"filter": {"field": "cat", "equal": "Inflammation phenotype"}}],
"mark": {"type": "text", "fontSize": 20, "fontWeight": "bold", "baseline": "middle", "dx": 28.2, "dy": 15.3, "color": "#1d2b23"},
"encoding": {"y": {"field": "y0", "type": "quantitative"}, "text": {"field": "label"}}
},
{
"data": {"name": "wt"},
"transform": [{"stack": "drugs", "groupby": [], "as": ["y0", "y1"]}, {"filter": {"field": "cat", "equal": "Cytotoxic drugs"}}],
"mark": {"type": "text", "fontSize": 14.5, "fontWeight": "bold", "baseline": "middle", "dx": -50.5, "dy": 10.6, "color": "#6b1515"},
"encoding": {"y": {"field": "y0", "type": "quantitative"}, "text": {"field": "pct", "type": "quantitative", "format": ".0%"}}
},
{
"data": {"name": "wt"},
"transform": [{"stack": "drugs", "groupby": [], "as": ["y0", "y1"]}, {"filter": {"field": "cat", "equal": "Cytotoxic drugs"}}],
"mark": {"type": "text", "fontSize": 14.5, "fontWeight": "bold", "baseline": "middle", "dx": 22.5, "dy": 10.6, "color": "#6b1515"},
"encoding": {"y": {"field": "y0", "type": "quantitative"}, "text": {"field": "label"}}
},
{
"data": {"name": "wt"},
"transform": [{"stack": "drugs", "groupby": [], "as": ["y0", "y1"]}, {"filter": {"field": "cat", "equal": "No phenotype"}}],
"mark": {"type": "text", "fontSize": 31, "fontWeight": "bold", "baseline": "middle", "dx": 2, "dy": 114, "color": "#231f20"},
"encoding": {"y": {"field": "y0", "type": "quantitative"}, "text": {"field": "pct", "type": "quantitative", "format": ".0%"}}
},
{
"data": {"name": "wt"},
"transform": [{"stack": "drugs", "groupby": [], "as": ["y0", "y1"]}, {"filter": {"field": "cat", "equal": "No phenotype"}}],
"mark": {"type": "text", "fontSize": 21.5, "fontWeight": "bold", "baseline": "middle", "dx": -0.5, "dy": 155.5, "color": "#231f20"},
"encoding": {"y": {"field": "y0", "type": "quantitative"}, "text": {"field": "label"}}
},
{
"data": {"name": "wt"},
"transform": [{"stack": "drugs", "groupby": [], "as": ["y0", "y1"]}, {"filter": {"field": "cat", "equal": "Differentiation phenotype"}}],
"mark": {"type": "text", "fontSize": 29, "baseline": "bottom", "align": "center", "lineHeight": 28, "lineBreak": "\n", "dx": -8.5, "dy": -35.7, "color": "#231f20"},
"encoding": {"y": {"field": "y0", "type": "quantitative"}, "text": {"value": "Effect on WT\norganoids"}}
}
]
},
{
"width": 76, "height": 507.6,
"data": {"name": "links"},
"mark": {"type": "rule", "color": "#333333"},
"encoding": {
"x": {"value": 0},
"x2": {"value": "width"},
"y": {"field": "wt", "type": "quantitative", "scale": {"domain": [-51.28, 319], "reverse": true, "nice": false, "zero": false}, "axis": null},
"y2": {"field": "akp"},
"strokeWidth": {"field": "link", "type": "nominal", "scale": {"domain": ["top", "bottom"], "range": [1.6, 0.8]}, "legend": null}
}
},
{
"width": 170, "height": 306,
"layer": [
{
"data": {"name": "akp"},
"transform": [{"stack": "total", "groupby": [], "as": ["y0", "y1"]}],
"mark": {"type": "rect", "fill": "#f07850", "stroke": "#333333", "strokeWidth": 1},
"encoding": {
"y": {"field": "y0", "type": "quantitative", "scale": {"domain": [-9.33, 27], "reverse": true, "nice": false, "zero": false}, "axis": null},
"y2": {"field": "y1"}
}
},
{
"data": {"name": "akp"},
"transform": [{"stack": "total", "groupby": [], "as": ["y0", "y1"]}],
"mark": {"type": "text", "fontSize": 31, "fontWeight": "bold", "baseline": "middle", "dx": 1.3, "dy": 70.7, "color": "#231f20"},
"encoding": {"y": {"field": "y0", "type": "quantitative"}, "text": {"field": "pct", "type": "quantitative", "format": ".0%"}}
},
{
"data": {"name": "akp"},
"transform": [{"stack": "total", "groupby": [], "as": ["y0", "y1"]}],
"mark": {"type": "text", "fontSize": 21.5, "fontWeight": "bold", "baseline": "middle", "dx": 1.7, "dy": 116.7, "color": "#231f20"},
"encoding": {"y": {"field": "y0", "type": "quantitative"}, "text": {"field": "label"}}
},
{
"data": {"name": "akp"},
"transform": [{"stack": "total", "groupby": [], "as": ["y0", "y1"]}],
"mark": {"type": "text", "fontSize": 29, "baseline": "bottom", "align": "center", "lineHeight": 28.4, "lineBreak": "\n", "dx": -2, "dy": -40, "color": "#231f20"},
"encoding": {"y": {"field": "y0", "type": "quantitative"}, "text": {"value": "Drugs targeting\nAKP organoids"}}
}
]
}
]
}
